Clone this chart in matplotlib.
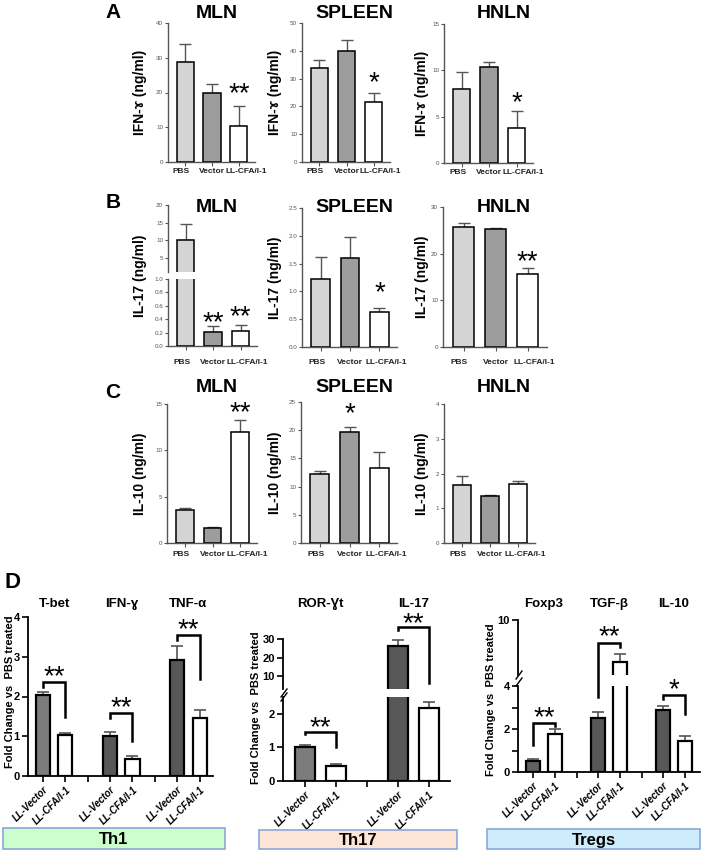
import numpy as np
import matplotlib.pyplot as plt
from matplotlib.lines import Line2D
from matplotlib.patches import Rectangle
from matplotlib import transforms

plt.rcParams['font.family'] = ['Liberation Sans', 'DejaVu Sans']

W, H = 709, 852

groups = ['PBS', 'Vector', 'LL-CFA/I-1']
organs = ['MLN', 'SPLEEN', 'HNLN']

# A: IFN-gamma (ng/ml), one row per organ
ifn_mean = [[28.8, 19.8, 10.4], [33.9, 40.0, 21.5], [7.95, 10.4, 3.8]]
ifn_err = [[5.1, 2.6, 5.7], [2.8, 3.9, 3.3], [1.85, 0.5, 1.85]]
# B: IL-17 (ng/ml)
il17_mean = [[10.1, 0.21, 0.22], [1.22, 1.6, 0.63], [25.7, 25.3, 15.6]]
il17_err = [[4.5, 0.09, 0.10], [0.4, 0.38, 0.07], [0.8, 0.1, 1.3]]
# C: IL-10 (ng/ml)
il10_mean = [[3.6, 1.65, 12.0], [12.2, 19.7, 13.3], [1.68, 1.36, 1.71]]
il10_err = [[0.22, 0.05, 1.3], [0.6, 0.9, 2.8], [0.26, 0.02, 0.08]]

# significance marks: (organ, bar, text, height)
a_stars = [(0, 2, '**', 21.0), (1, 2, '*', 30.5), (2, 2, '*', 7.1)]
b_stars = [(0, 1, '**', 0.42), (0, 2, '**', 0.51), (1, 2, '*', 1.06), (2, 2, '**', 19.3)]
c_stars = [(0, 2, '**', 14.6), (1, 1, '*', 23.9)]

# D: fold change vs PBS treated
th1_genes = ['T-bet', 'IFN-ɣ', 'TNF-α']
th1_vec = [2.04, 1.0, 2.92]
th1_vec_err = [0.08, 0.1, 0.35]
th1_ll = [1.03, 0.43, 1.46]
th1_ll_err = [0.05, 0.07, 0.2]

th17_genes = ['ROR-Ɣt', 'IL-17']
th17_vec = [1.0, 26.0]
th17_vec_err = [0.08, 3.4]
th17_ll = [0.44, 2.17]
th17_ll_err = [0.06, 0.18]

treg_genes = ['Foxp3', 'TGF-β', 'IL-10']
treg_vec = [0.52, 2.5, 2.88]
treg_vec_err = [0.1, 0.28, 0.18]
treg_ll = [1.77, 5.4, 1.42]
treg_ll_err = [0.23, 0.9, 0.26]

d_ticklabels = ['LL-Vector', 'LL-CFA/I-1', '']

fig = plt.figure(figsize=(W / 100, H / 100), dpi=100)


def box(l, t, r, b):
    return fig.add_axes([l / W, 1 - b / H, (r - l) / W, (b - t) / H], facecolor='none')


def ftext(x, y, s, **kw):
    fig.text(x / W, 1 - y / H, s, **kw)


def star(ax, x, y, s):
    ax.annotate(s, (x, y), xytext=(0, -9), textcoords='offset points',
                ha='center', va='baseline', fontsize=20, annotation_clip=False)


fills = ['#d4d4d4', '#9d9d9d', 'white']
label_shift = [-4, 0, 7]   # px, GraphPad nudges the crowded labels apart


def top_bars(ax, vals, errs):
    x = np.arange(3)
    ax.bar(x, vals, 0.64, color=fills, edgecolor='black', linewidth=1.1, zorder=3)
    ax.errorbar(x, vals, yerr=[np.zeros(3), errs], fmt='none', ecolor='#555555',
                elinewidth=1, capsize=4, capthick=1, zorder=2)
    ax.set_xlim(-0.64, 2.6)


def top_style(ax, ylim, yticks, fmt='%g', xlab=True, pad=2):
    for s in ['top', 'right']:
        ax.spines[s].set_visible(False)
    for s in ['left', 'bottom']:
        ax.spines[s].set_color('#555555')
        ax.spines[s].set_linewidth(1.0)
    ax.set_ylim(ylim)
    ax.set_yticks(yticks, [fmt % v for v in yticks])
    ax.tick_params(axis='y', length=2.5, width=0.8, color='#555555',
                   labelsize=4.5, labelcolor='#555555', pad=1)
    if xlab:
        ax.set_xticks(range(3), groups, fontsize=6, fontweight='bold', color='#222222')
        ax.tick_params(axis='x', length=3, width=0.8, color='#555555', pad=pad)
        for lab, dx in zip(ax.get_xticklabels(), label_shift):
            lab.set_transform(lab.get_transform() +
                              transforms.ScaledTranslation(dx / 100, 0, fig.dpi_scale_trans))
    else:
        ax.set_xticks([])


# ---------- panels A, B, C ----------
pos_A = [(168, 23, 255, 162), (302, 23, 390, 162), (444, 24, 533, 163)]
pos_B = [(168, 205, 257, 346), (302, 208, 397, 347), (443, 207, 547, 347)]
pos_C = [(167, 404, 257, 543), (301, 402, 397, 543), (444, 404, 535, 543)]
ylab_x = [140, 275, 422]
title_x = [217, 354, 504]

# A
a_lims = [(0, 40), (0, 50), (0, 15)]
a_ticks = [range(0, 41, 10), range(0, 51, 10), range(0, 16, 5)]
axA = []
for i in range(3):
    ax = box(*pos_A[i])
    top_bars(ax, ifn_mean[i], ifn_err[i])
    top_style(ax, a_lims[i], list(a_ticks[i]), pad=1.5)
    ftext(ylab_x[i], (pos_A[i][1] + pos_A[i][3]) / 2, 'IFN-ɤ (ng/ml)', rotation=90,
          ha='center', va='center', fontsize=10, fontweight='bold')
    ftext(title_x[i], 13, organs[i], ha='center', va='center', fontsize=14, fontweight='bold')
    axA.append(ax)
for o, b, s, y in a_stars:
    star(axA[o], b, y, s)

# B (MLN has a broken axis)
l, t, r, b = pos_B[0]
b_up = box(l, t, r, 272)
b_lo = box(l, 279, r, b)
for ax in (b_up, b_lo):
    top_bars(ax, il17_mean[0], il17_err[0])
top_style(b_up, (1, 20), [5, 10, 15, 20], xlab=False)
b_up.spines['bottom'].set_visible(False)
top_style(b_lo, (0, 1), list(np.round(np.arange(0, 1.01, 0.2), 1)), fmt='%.1f', pad=6)
axB = [b_lo]
b_lims = [None, (0, 2.5), (0, 30)]
b_ticks = [None, [0, 0.5, 1.0, 1.5, 2.0, 2.5], [0, 10, 20, 30]]
b_fmt = [None, '%.1f', '%g']
for i in (1, 2):
    ax = box(*pos_B[i])
    top_bars(ax, il17_mean[i], il17_err[i])
    top_style(ax, b_lims[i], b_ticks[i], fmt=b_fmt[i], pad=6)
    axB.append(ax)
for i in range(3):
    ftext(ylab_x[i], (pos_B[i][1] + pos_B[i][3]) / 2, 'IL-17 (ng/ml)', rotation=90,
          ha='center', va='center', fontsize=10, fontweight='bold')
    ftext(title_x[i], 207, organs[i], ha='center', va='center', fontsize=14, fontweight='bold')
for o, bb, s, y in b_stars:
    star(axB[o], bb, y, s)

# C
c_lims = [(0, 15), (0, 25), (0, 4)]
c_ticks = [range(0, 16, 5), range(0, 26, 5), range(0, 5)]
axC = []
for i in range(3):
    ax = box(*pos_C[i])
    top_bars(ax, il10_mean[i], il10_err[i])
    top_style(ax, c_lims[i], list(c_ticks[i]), pad=2.5)
    ftext(ylab_x[i], (pos_C[i][1] + pos_C[i][3]) / 2, 'IL-10 (ng/ml)', rotation=90,
          ha='center', va='center', fontsize=10, fontweight='bold')
    ftext(title_x[i], 388, organs[i], ha='center', va='center', fontsize=14, fontweight='bold')
    axC.append(ax)
for o, bb, s, y in c_stars:
    star(axC[o], bb, y, s)

for letter, x, y in [('A', 113, 13), ('B', 113, 202), ('C', 113, 392), ('D', 13, 583)]:
    ftext(x, y, letter, ha='center', va='center', fontsize=16 if letter == 'D' else 15,
          fontweight='bold')

# ---------- panel D ----------
vec_cols_th1 = ['#7c7c7c', '#575757', '#575757']
vec_cols_th17 = ['#7c7c7c', '#575757']
vec_cols_treg = ['#606060', '#575757', '#575757']


def d_bars(ax, vec, vec_err, ll, ll_err, cols, width, lo=None):
    n = len(vec)
    xv = np.arange(n) * 3
    xl = xv + 1
    ax.bar(xv, vec, width, color=cols, edgecolor='black', linewidth=1.6, zorder=3)
    ax.bar(xl, ll, width, color='white', edgecolor='black', linewidth=1.6, zorder=3)
    for xs, v, e in ((xv, vec, vec_err), (xl, ll, ll_err)):
        v, e = np.asarray(v), np.asarray(e)
        keep = np.ones(n, bool) if lo is None else (v + e > lo)
        if keep.any():
            ax.errorbar(xs[keep], v[keep], yerr=[np.zeros(keep.sum()), e[keep]], fmt='none',
                        ecolor='#555555', elinewidth=1.2, capsize=4, capthick=1.2, zorder=2)


def d_style(ax, nslots, xlim, ylim, yticks, ylabels=None, bottom=True):
    for s in ['top', 'right']:
        ax.spines[s].set_visible(False)
    for s in ['left', 'bottom']:
        ax.spines[s].set_linewidth(1.3)
    ax.set_xlim(xlim)
    ax.set_ylim(ylim)
    if ylabels is None:
        ylabels = ['%g' % v for v in yticks]
    ax.set_yticks(yticks, ylabels, fontsize=8, fontweight='bold')
    ax.tick_params(axis='y', length=4, width=1.2, pad=2)
    if bottom:
        labs = (d_ticklabels * 3)[:nslots]
        ax.set_xticks(range(nslots), labs, rotation=45, ha='right', rotation_mode='anchor',
                      fontsize=7, fontstyle='italic', fontweight='bold')
        ax.tick_params(axis='x', length=4, width=1.2, pad=2)
    else:
        ax.spines['bottom'].set_visible(False)
        ax.set_xticks([])


def gene_titles(ax, genes, y):
    tr = transforms.blended_transform_factory(ax.transData, fig.transFigure)
    for k, g in enumerate(genes):
        ax.text(3 * k + 0.5, 1 - y / H, g, transform=tr, ha='center', va='center',
                fontsize=9.5, fontweight='bold')


# Th1
d1 = box(28, 617, 213, 776)
d_bars(d1, th1_vec, th1_vec_err, th1_ll, th1_ll_err, vec_cols_th1, 0.63)
d_style(d1, 8, (-0.67, 7.6), (0, 4), [0, 1, 2, 3, 4])
gene_titles(d1, th1_genes, 604)

# Th17 (broken axis)
d2u = box(283, 639, 450, 689)
d2l = box(283, 697, 450, 781)
d_bars(d2u, th17_vec, th17_vec_err, th17_ll, th17_ll_err, vec_cols_th17, 0.65, lo=3.0)
d_bars(d2l, th17_vec, th17_vec_err, th17_ll, th17_ll_err, vec_cols_th17, 0.65)
d_style(d2u, 5, (-0.71, 4.68), (3.0, 30), [10, 20, 30], bottom=False)
d_style(d2l, 5, (-0.71, 4.68), (0, 2.5), [0, 1, 2])
gene_titles(d2l, th17_genes, 604)

# Tregs (broken axis)
d3u = box(518, 620, 700, 675)
d3l = box(518, 686, 700, 772)
d_bars(d3u, treg_vec, treg_vec_err, treg_ll, treg_ll_err, vec_cols_treg, 0.63, lo=4)
d_bars(d3l, treg_vec, treg_vec_err, treg_ll, treg_ll_err, vec_cols_treg, 0.63)
d_style(d3u, 8, (-0.7, 7.7), (4, 10), [10], bottom=False)
d_style(d3l, 8, (-0.7, 7.7), (0, 4), [0, 1, 2, 3, 4], ['0', '', '2', '', '4'])
gene_titles(d3l, treg_genes, 604)

for x, y in [(10, 692), (256, 708), (491, 700)]:
    ftext(x, y, 'Fold Change vs  PBS treated', rotation=90, ha='center', va='center',
          fontsize=8, fontweight='bold')

# axis break marks
for x0, y0 in [(281, 697), (281, 701), (516, 679), (516, 686)]:
    fig.add_artist(Line2D([x0 / W, (x0 + 6) / W], [1 - y0 / H, 1 - (y0 - 8) / H],
                          color='black', lw=1.0))


def bracket(pts):
    inv = fig.transFigure.inverted()
    xy = [inv.transform(ax.transData.transform((x, y))) for ax, x, y in pts]
    xs, ys = zip(*xy)
    fig.add_artist(Line2D(xs, ys, color='black', lw=1.8, solid_joinstyle='miter'))


# brackets: (ax, x, y) corner points, then star above
bracket([(d1, 0, 2.24), (d1, 0, 2.37), (d1, 1, 2.37), (d1, 1, 1.49)])
star(d1, 0.5, 2.62, '**')
bracket([(d1, 3, 1.46), (d1, 3, 1.59), (d1, 4, 1.59), (d1, 4, 0.88)])
star(d1, 3.5, 1.84, '**')
bracket([(d1, 6, 3.42), (d1, 6, 3.55), (d1, 7, 3.55), (d1, 7, 2.44)])
star(d1, 6.5, 3.8, '**')

bracket([(d2l, 0, 1.4), (d2l, 0, 1.46), (d2l, 1, 1.46), (d2l, 1, 1.02)])
star(d2l, 0.5, 1.73, '**')
bracket([(d2u, 3, 35.0), (d2u, 3, 36.5), (d2u, 4, 36.5), (d2u, 4, 6.2)])
star(d2u, 3.5, 41.0, '**')

bracket([(d3l, 0, 1.26), (d3l, 0, 2.28), (d3l, 1, 2.28), (d3l, 1, 2.12)])
star(d3l, 0.5, 2.74, '**')
bracket([(d3l, 3, 3.49), (d3u, 3, 7.5), (d3u, 4, 7.5), (d3u, 4, 7.05)])
star(d3u, 3.5, 8.7, '**')
bracket([(d3l, 6, 3.4), (d3l, 6, 3.58), (d3l, 7, 3.58), (d3l, 7, 2.7)])
star(d3l, 6.5, 4.05, '*')

# group boxes
for (l, t, r, b), fc, lab in [((3, 828, 225, 849), '#ccffcc', 'Th1'),
                              ((259, 830, 457, 849), '#fce4d6', 'Th17'),
                              ((487, 829, 700, 849), '#cdedfd', 'Tregs')]:
    fig.add_artist(Rectangle((l / W, 1 - b / H), (r - l) / W, (b - t) / H,
                             transform=fig.transFigure, facecolor=fc,
                             edgecolor='#8aa8d4', lw=1.2))
    ftext((l + r) / 2, (t + b) / 2 + 1, lab, ha='center', va='center',
          fontsize=12, fontweight='bold')

fig.savefig('out.png', dpi=100)
